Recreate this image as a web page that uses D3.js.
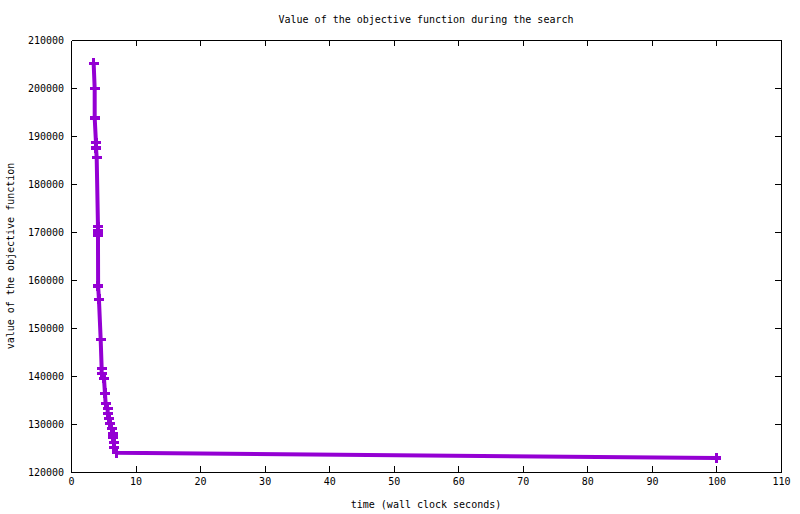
<!DOCTYPE html>
<html lang="en">
<head>
    <meta charset="UTF-8">
    <title>Value of the objective function during the search</title>
    <script src="https://d3js.org/d3.v7.min.js"></script>
    <style>
        body { margin: 0; background: #fff; }
        svg text { font-family: "DejaVu Sans Mono", monospace; font-size: 10px; fill: #000; }
        .axis path, .axis line { stroke: #000; stroke-width: 1; shape-rendering: crispEdges; }
    </style>
</head>
<body>
    <svg width="800" height="514"></svg>

    <script>
        // wall clock seconds and objective value for every improvement found
        const times = [3.51, 3.67, 3.67, 3.87, 3.87, 3.98, 4.18, 4.18, 4.18,
                       4.2, 4.33, 4.6, 4.75, 4.75, 5.11, 5.26, 5.37, 5.68, 5.68,
                       5.88, 6.04, 6.3, 6.5, 6.5, 6.66, 6.66, 7.07, 100.0];
        const values = [205150, 199850, 193800, 188600, 187550, 185480, 171100, 170200, 169380,
                        158800, 155980, 147560, 141600, 140560, 139520, 136400, 134230, 133190, 132150,
                        131100, 130060, 129020, 127920, 127150, 126190, 125060, 124020, 122920];

        const xTicks = d3.range(0, 111, 10);
        const yTicks = d3.range(120000, 210001, 10000);

        const title = "Value of the objective function during the search";
        const xTitle = "time (wall clock seconds)";
        const yTitle = "value of the objective function";

        const data = times.map((t, i) => ({ t: t, v: values[i] }));

        const margin = { top: 40, right: 19, bottom: 42, left: 71 };
        const W = 800, H = 514;

        const svg = d3.select("svg");

        const x = d3.scaleLinear().domain([0, 110]).range([margin.left, W - margin.right]);
        const y = d3.scaleLinear().domain([120000, 210000]).range([H - margin.bottom, margin.top]);

        // border with inward ticks on all four sides (mirrored)
        svg.append("g").attr("class", "axis")
            .attr("transform", "translate(0," + (H - margin.bottom) + ")")
            .call(d3.axisBottom(x).tickValues(xTicks).tickFormat(d3.format("d"))
                .tickSize(-6).tickPadding(10).tickSizeOuter(0))
            .call(g => g.selectAll("text").attr("dy", "0.3em"));

        svg.append("g").attr("class", "axis")
            .attr("transform", "translate(0," + margin.top + ")")
            .call(d3.axisTop(x).tickValues(xTicks).tickSize(-6).tickFormat("").tickSizeOuter(0));

        svg.append("g").attr("class", "axis")
            .attr("transform", "translate(" + margin.left + ",0)")
            .call(d3.axisLeft(y).tickValues(yTicks).tickFormat(d3.format("d"))
                .tickSize(-6).tickPadding(7).tickSizeOuter(0));

        svg.append("g").attr("class", "axis")
            .attr("transform", "translate(" + (W - margin.right) + ",0)")
            .call(d3.axisRight(y).tickValues(yTicks).tickSize(-6).tickFormat("").tickSizeOuter(0));

        svg.selectAll(".axis .domain").attr("stroke", "#000");
        svg.selectAll(".axis .tick text").attr("fill", "#000");

        // remove ticks sitting right on the corners
        svg.selectAll(".axis .tick").filter(d => d === 0 || d === 110 || d === 120000 || d === 210000)
            .select("line").remove();

        // line and markers
        const line = d3.line().x(d => x(d.t)).y(d => y(d.v));

        svg.append("path")
            .datum(data)
            .attr("fill", "none")
            .attr("stroke", "#9400d3")
            .attr("stroke-width", 4)
            .attr("stroke-linejoin", "miter")
            .attr("d", line);

        const s = 5;
        svg.selectAll(".pt")
            .data(data)
            .enter().append("path")
            .attr("class", "pt")
            .attr("fill", "none")
            .attr("stroke", "#9400d3")
            .attr("stroke-width", 3.5)
            .attr("shape-rendering", "crispEdges")
            .attr("d", d => {
                const px = x(d.t), py = y(d.v);
                return "M" + (px - s) + "," + py + "H" + (px + s) +
                       "M" + px + "," + (py - s) + "V" + (py + s);
            });

        // titles
        svg.append("text")
            .attr("x", (margin.left + W - margin.right) / 2)
            .attr("y", 23)
            .attr("text-anchor", "middle")
            .text(title);

        svg.append("text")
            .attr("x", (margin.left + W - margin.right) / 2)
            .attr("y", 508)
            .attr("text-anchor", "middle")
            .text(xTitle);

        svg.append("text")
            .attr("transform", "translate(14," + ((margin.top + H - margin.bottom) / 2) + ") rotate(-90)")
            .attr("text-anchor", "middle")
            .text(yTitle);
    </script>
</body>
</html>
